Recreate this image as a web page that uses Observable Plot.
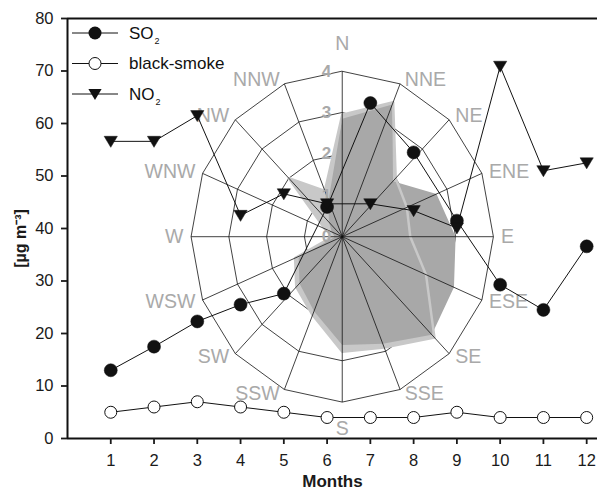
<!DOCTYPE html>
<html>
<head>
<meta charset="utf-8">
<script src="https://cdn.jsdelivr.net/npm/d3@7"></script>
<script src="https://cdn.jsdelivr.net/npm/@observablehq/plot@0.6"></script>
<style>
  html, body { margin: 0; padding: 0; background: #fff; }
  #chart { width: 597px; height: 491px; }
</style>
</head>
<body>
<div id="chart"></div>
<script>
// ---- data ----
const months = [1, 2, 3, 4, 5, 6, 7, 8, 9, 10, 11, 12];
const so2 = [13.0, 17.5, 22.3, 25.5, 27.6, 44.1, 63.9, 54.5, 41.5, 29.3, 24.5, 36.6];
const blackSmoke = [5, 6, 7, 6, 5, 4, 4, 4, 5, 4, 4, 4];
const no2 = [56.6, 56.6, 61.5, 42.5, 46.6, 44.7, 44.7, 43.4, 40.1, 70.9, 51.0, 52.5];
const yTicks = [0, 10, 20, 30, 40, 50, 60, 70, 80];

const directions = ["N","NNE","NE","ENE","E","ESE","SE","SSE","S","SSW","SW","WSW","W","WNW","NW","NNW"];
const roseDark  = [2.85, 3.46, 1.9, 2.7, 3.0, 3.2, 3.35, 2.8, 2.62, 1.95, 1.6, 1.25, 0.2, 0.3, 0.5, 0.95];
const roseLight = [2.95, 3.52, 2.0, 1.85, 1.8, 2.4, 3.45, 2.9, 2.78, 2.05, 1.72, 1.35, 0.25, 0.5, 2.0, 1.2];
const ringLevels = [1, 2, 3, 4];
const ringLabels = ["0", "1", "2", "3", "4"];

const legendItems = [
  {label: "SO", sub: "2", kind: "so2"},
  {label: "black-smoke", sub: "", kind: "bs"},
  {label: "NO", sub: "2", kind: "no2"}
];

// ---- rose geometry (placement of the inset wind rose in chart units) ----
const rose = {cx: 6.35, cy: 38.44, kx: 0.8735, ky: 7.876};
function pt(v, i) {
  const a = i * Math.PI / 8;
  return {x: rose.cx + v * rose.kx * Math.sin(a), y: rose.cy + v * rose.ky * Math.cos(a)};
}

const ringPts = ringLevels.flatMap(r => directions.map((d, i) => ({ring: r, ...pt(r, i)})));
const darkPts = roseDark.map((v, i) => pt(v, i));
const lightPts = roseLight.map((v, i) => pt(v, i));
const spokePts = directions.map((d, i) => ({name: d, ...pt(4, i)}));
const labelPts = directions.map((d, i) => ({name: d, i, ...pt(4.12, i)}));
const ringLabelPts = ringLabels.map((t, k) => ({t, x: rose.cx, y: rose.cy + k * rose.ky}));

const series = months.map((m, i) => ({m, so2: so2[i], bs: blackSmoke[i], no2: no2[i]}));

const triDown = {
  draw(context, size) {
    const r = Math.sqrt(size / Math.PI);
    context.moveTo(-1.05 * r, -0.8 * r);
    context.lineTo(1.05 * r, -0.8 * r);
    context.lineTo(0, 0.95 * r);
    context.closePath();
  }
};

const FONT = "'Liberation Sans', Arial, Helvetica, sans-serif";
const GRAY = "#a9a9a9";

const svg = Plot.plot({
  width: 597,
  height: 491,
  marginLeft: 67,
  marginRight: 0,
  marginTop: 18,
  marginBottom: 53,
  style: {fontFamily: FONT, fontSize: "16.5px", color: "#1a1a1a", background: "#fff"},
  x: {domain: [0, 12.25]},
  y: {domain: [0, 80]},
  marks: [
    // wind rose rings
    Plot.line(ringPts, {x: "x", y: "y", z: "ring", curve: "linear-closed", stroke: "#111", strokeWidth: 0.8}),
    // shaded roses
    Plot.line(lightPts, {x: "x", y: "y", curve: "linear-closed", fill: "#c8c8c8", stroke: "none"}),
    Plot.line(darkPts, {x: "x", y: "y", curve: "linear-closed", fill: "#a8a8a8", stroke: "none"}),
    Plot.line(lightPts, {x: "x", y: "y", curve: "linear-closed", fill: "none", stroke: "#c8c8c8", strokeWidth: 2.5}),
    // spokes
    Plot.link(spokePts, {x1: d => rose.cx, y1: d => rose.cy, x2: "x", y2: "y", stroke: "#111", strokeWidth: 0.8}),
    // direction labels
    Plot.text(labelPts.filter(d => d.i > 0 && d.i < 8), {x: "x", y: "y", text: "name", textAnchor: "start", dx: 3, fill: GRAY, fontSize: 19.5}),
    Plot.text(labelPts.filter(d => d.i > 8), {x: "x", y: "y", text: "name", textAnchor: "end", dx: -3, fill: GRAY, fontSize: 19.5}),
    Plot.text(labelPts.filter(d => d.i === 0), {x: "x", y: "y", text: "name", dy: -23, fill: GRAY, fontSize: 19.5}),
    Plot.text(labelPts.filter(d => d.i === 8), {x: "x", y: "y", text: "name", dy: 22, fill: GRAY, fontSize: 19.5}),
    // ring value labels
    Plot.text(ringLabelPts, {x: "x", y: "y", text: "t", textAnchor: "end", dx: -11, fill: GRAY, fontSize: 17, fontWeight: "bold"}),
    // frame
    Plot.ruleY([80], {stroke: "#111", strokeWidth: 2}),
    Plot.ruleY([0], {stroke: "#111", strokeWidth: 2}),
    Plot.ruleX([0], {stroke: "#111", strokeWidth: 2}),
    // axes
    Plot.axisX({ticks: months, tickSize: 6, tickPadding: 10, label: null, strokeWidth: 1.8, fontSize: 16.5}),
    Plot.axisY({ticks: yTicks, tickSize: 6, tickPadding: 8, label: null, strokeWidth: 1.8, fontSize: 16.5}),
    // series
    Plot.line(series, {x: "m", y: "so2", stroke: "#111", strokeWidth: 1}),
    Plot.line(series, {x: "m", y: "bs", stroke: "#111", strokeWidth: 1}),
    Plot.line(series, {x: "m", y: "no2", stroke: "#111", strokeWidth: 1}),
    Plot.dot(series, {x: "m", y: "bs", r: 6, fill: "#fff", stroke: "#111", strokeWidth: 1}),
    Plot.dot(series, {x: "m", y: "so2", r: 6.5, fill: "#111", stroke: "#111", strokeWidth: 0.5}),
    Plot.dot(series, {x: "m", y: "no2", r: 6.3, symbol: triDown, fill: "#111", stroke: "#111", strokeWidth: 0.5}),
    // axis titles
    Plot.text(["Months"], {frameAnchor: "bottom", lineAnchor: "middle", textAnchor: "middle", dy: 43, text: d => d, fontWeight: "bold", fontSize: 17, fill: "#1a1a1a"}),
    Plot.text(["[µg m⁻³]"], {frameAnchor: "left", lineAnchor: "middle", textAnchor: "middle", dx: -47, dy: 10, rotate: -90, text: d => d, fontWeight: "bold", fontSize: 16, fill: "#1a1a1a"})
  ]
});

document.getElementById("chart").append(svg);

// ---- legend (top-left inside the frame) ----
const root = d3.select(svg);
const lg = root.append("g")
  .attr("font-family", FONT).attr("font-size", 17).attr("fill", "#111")
  .attr("text-anchor", "start");
legendItems.forEach((it, k) => {
  const y = 33 + k * 30.5;
  const g = lg.append("g").attr("transform", `translate(0,${y})`);
  g.append("line").attr("x1", 72).attr("x2", 118).attr("y1", 0).attr("y2", 0).attr("stroke", "#111").attr("stroke-width", 1);
  if (it.kind === "so2") {
    g.append("circle").attr("cx", 95).attr("cy", 0).attr("r", 6.5).attr("fill", "#111");
  } else if (it.kind === "bs") {
    g.append("circle").attr("cx", 95).attr("cy", 0).attr("r", 6).attr("fill", "#fff").attr("stroke", "#111");
  } else {
    const p = d3.path();
    triDown.draw(p, 6.3 * 6.3 * Math.PI);
    g.append("path").attr("d", p.toString()).attr("transform", "translate(95,0)").attr("fill", "#111");
  }
  const t = g.append("text").attr("x", 129).attr("y", 0).attr("dy", "0.35em").attr("text-anchor", "start");
  t.append("tspan").text(it.label);
  if (it.sub) t.append("tspan").attr("font-size", 9).attr("dy", "0.55em").attr("dx", 1).text(it.sub);
});
</script>
</body>
</html>
